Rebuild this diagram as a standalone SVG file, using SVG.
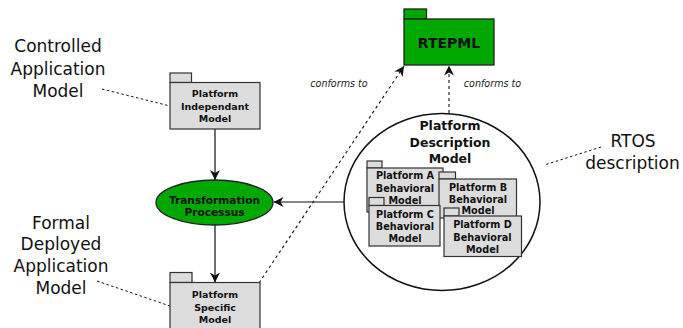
<svg xmlns="http://www.w3.org/2000/svg" width="683" height="328" viewBox="0 0 683 328">
  <style>
    .pkg { fill: #dcdcdc; stroke: #333; stroke-width: 1.2; }
    .green { fill: #00a800; stroke: #222; stroke-width: 1.3; }
    .bt { font-family: "DejaVu Sans", sans-serif; font-weight: bold; fill: #111; text-anchor: middle; dominant-baseline: central; }
    .lbl { font-family: "DejaVu Sans", sans-serif; font-size: 17px; fill: #111; text-anchor: middle; dominant-baseline: central; }
    .it { font-family: "DejaVu Sans", sans-serif; font-style: italic; font-size: 9.6px; fill: #222; text-anchor: middle; dominant-baseline: central; }
    .solid { fill: none; stroke: #111; stroke-width: 1.2; }
    .dash { fill: none; stroke: #111; stroke-width: 1.1; stroke-dasharray: 3 3; }
    .note { fill: none; stroke: #111; stroke-width: 1; stroke-dasharray: 2.5 2.5; }
  </style>
  <defs>
    <marker id="arr" viewBox="0 0 10 10" refX="10" refY="5" markerWidth="10" markerHeight="10" markerUnits="userSpaceOnUse" orient="auto">
      <path d="M0,0 L10,5 L0,10 L3,5 z" fill="#111"/>
    </marker>
  </defs>

  <!-- side labels -->
  <g id="label-controlled">
    <text class="lbl" x="58" y="46">Controlled</text>
    <text class="lbl" x="58" y="68.5">Application</text>
    <text class="lbl" x="58" y="90.5">Model</text>
  </g>
  <g id="label-formal">
    <text class="lbl" x="61" y="222.5">Formal</text>
    <text class="lbl" x="61" y="244">Deployed</text>
    <text class="lbl" x="61" y="266">Application</text>
    <text class="lbl" x="61" y="287.5">Model</text>
  </g>
  <g id="label-rtos">
    <text class="lbl" x="633" y="140.5">RTOS</text>
    <text class="lbl" x="632.5" y="162.5">description</text>
  </g>

  <!-- connectors -->
  <g id="connectors">
    <line class="note" x1="102" y1="89" x2="170" y2="106"/>
    <line class="note" x1="97" y1="281" x2="170" y2="306"/>
    <line class="note" x1="601" y1="147" x2="546" y2="164.5"/>
    <line class="solid" x1="215" y1="129" x2="215" y2="180" marker-end="url(#arr)"/>
    <line class="solid" x1="215" y1="225" x2="215" y2="282.5" marker-end="url(#arr)"/>
    <line class="solid" x1="344" y1="202" x2="273.5" y2="202" marker-end="url(#arr)"/>
    <line class="dash" x1="259" y1="283" x2="404" y2="66" marker-end="url(#arr)"/>
    <line class="dash" x1="449" y1="113" x2="449" y2="65.5" marker-end="url(#arr)"/>
    <text class="it" x="339" y="83">conforms to</text>
    <text class="it" x="492.5" y="83">conforms to</text>
  </g>

  <!-- metamodel -->
  <g id="rtepml">
    <rect class="green" x="404" y="9" width="22.5" height="10"/>
    <rect class="green" x="404" y="19" width="90" height="46"/>
    <text class="bt" x="449" y="42.5" font-size="14">RTEPML</text>
  </g>

  <g id="pim">
    <rect class="pkg" x="170" y="73" width="21.5" height="9.5"/>
    <rect class="pkg" x="170" y="82.5" width="90" height="46.5"/>
    <text class="bt" x="215" y="93.5" font-size="9.5">Platform</text>
    <text class="bt" x="215" y="106" font-size="9.5">Independant</text>
    <text class="bt" x="215" y="118" font-size="9.5">Model</text>
  </g>

  <g id="transformation">
    <ellipse class="green" cx="214.5" cy="202.5" rx="58.5" ry="22.5" stroke-width="1.5"/>
    <text class="bt" x="214.5" y="199.5" font-size="10.6">Transformation</text>
    <text class="bt" x="214.5" y="212" font-size="10.6">Processus</text>
  </g>

  <g id="psm">
    <rect class="pkg" x="170" y="272.5" width="22" height="10"/>
    <rect class="pkg" x="170" y="282.5" width="90" height="50"/>
    <text class="bt" x="215" y="294" font-size="9.5">Platform</text>
    <text class="bt" x="215" y="307" font-size="9.5">Specific</text>
    <text class="bt" x="215" y="319.5" font-size="9.5">Model</text>
  </g>

  <!-- platform description with behavioral models -->
  <g id="platform-description">
    <ellipse cx="442" cy="202" rx="98" ry="88.5" fill="#fff" stroke="#111" stroke-width="1.5"/>
    <text class="bt" x="450" y="125.5" font-size="12.5">Platform</text>
    <text class="bt" x="450" y="142" font-size="12.5">Description</text>
    <text class="bt" x="450" y="158" font-size="12.5">Model</text>
  </g>

  <g id="platform-a">
    <rect class="pkg" x="367" y="161" width="15" height="7"/>
    <rect class="pkg" x="367" y="168" width="76" height="44"/>
    <text class="bt" x="405" y="175" font-size="9.7">Platform A</text>
    <text class="bt" x="405" y="188" font-size="9.7">Behavioral</text>
    <text class="bt" x="405" y="200" font-size="9.7">Model</text>
  </g>
  <g id="platform-b">
    <rect class="pkg" x="439" y="172" width="16.5" height="7"/>
    <rect class="pkg" x="439" y="179" width="77.5" height="39"/>
    <text class="bt" x="478" y="187" font-size="9.7">Platform B</text>
    <text class="bt" x="478" y="199" font-size="9.7">Behavioral</text>
    <text class="bt" x="478" y="210.5" font-size="9.7">Model</text>
  </g>
  <g id="platform-c">
    <rect class="pkg" x="369" y="197.5" width="15" height="8"/>
    <rect class="pkg" x="369" y="205.5" width="71" height="40.5"/>
    <text class="bt" x="405" y="214" font-size="9.7">Platform C</text>
    <text class="bt" x="405" y="226" font-size="9.7">Behavioral</text>
    <text class="bt" x="405" y="238" font-size="9.7">Model</text>
  </g>
  <g id="platform-d">
    <rect class="pkg" x="444" y="208" width="15" height="8"/>
    <rect class="pkg" x="444" y="216" width="77.5" height="40.5"/>
    <text class="bt" x="482.5" y="224.5" font-size="9.7">Platform D</text>
    <text class="bt" x="482.5" y="237" font-size="9.7">Behavioral</text>
    <text class="bt" x="482.5" y="249" font-size="9.7">Model</text>
  </g>
</svg>
